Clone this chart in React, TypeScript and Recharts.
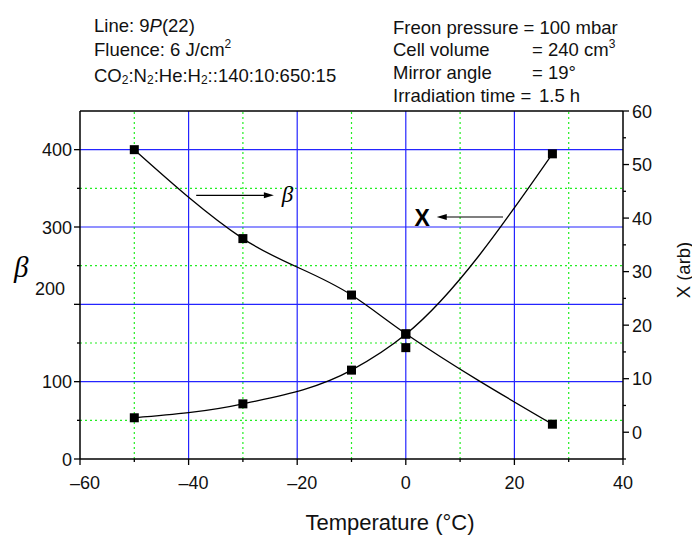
import React from 'react';
import { ComposedChart, Line, Scatter, XAxis, YAxis, ReferenceLine } from 'recharts';

// ---- data ----
const temperatures = [-50, -30, -10, 0, 27];
const betaValues = [400, 285, 212, 162, 45];
const xValues = [2.7, 5.3, 11.6, 18.3, 52.0];
const extraT = [0];
const extraX = [15.8];

const xTicks = [-60, -50, -40, -30, -20, -10, 0, 10, 20, 30, 40];
const leftTicks = [0, 50, 100, 150, 200, 250, 300, 350, 400];
const rightTicks = [-5, 0, 5, 10, 15, 20, 25, 30, 35, 40, 45, 50, 55, 60];
const xGridMajor = [-40, -20, 0, 20];
const xGridMinor = [-50, -30, -10, 10, 30];
const yGridMajor = [100, 200, 300, 400];
const yGridMinor = [50, 150, 250, 350];

const chartData = temperatures.map((t, i) => ({ t, beta: betaValues[i], x: xValues[i] }));
const extraData = extraT.map((t, i) => ({ t, x: extraX[i] }));

const FONT = '"Liberation Sans", Arial, sans-serif';
const BLUE = '#2424ff';
const GREEN = '#22ee22';

const fmt = (v: number) => (v < 0 ? '\u2013' + Math.abs(v) : String(v));

const XTick = (props: any) => {
  const { x, y, payload } = props;
  const v = payload.value;
  const major = v % 20 === 0;
  return (
    <g>
      <line x1={x} y1={y} x2={x} y2={y + (major ? 6 : 3)} stroke="#000" strokeWidth={1.3} />
      {major && (
        <text x={v < 0 ? x + 5 : x} y={y + 29.5} textAnchor="middle" fontSize={18} fontFamily={FONT} fill="#111">
          {fmt(v)}
        </text>
      )}
    </g>
  );
};

const LeftTick = (props: any) => {
  const { x, y, payload } = props;
  const v = payload.value;
  const major = v % 100 === 0;
  const special = v === 200;
  return (
    <g>
      <line x1={x} y1={y} x2={x - (major ? 6 : 3)} y2={y} stroke="#000" strokeWidth={1.3} />
      {major && (
        <text x={special ? x - 15 : x - 8} y={special ? y - 16 + 6.5 : y + 6.5} textAnchor="end" fontSize={18} fontFamily={FONT} fill="#111">
          {fmt(v)}
        </text>
      )}
    </g>
  );
};

const RightTick = (props: any) => {
  const { x, y, payload } = props;
  const v = payload.value;
  const major = v % 10 === 0;
  return (
    <g>
      <line x1={x} y1={y} x2={x + (major ? 6 : 3)} y2={y} stroke="#000" strokeWidth={1.3} />
      {major && (
        <text x={x + 9} y={y + 6.5} textAnchor="start" fontSize={18} fontFamily={FONT} fill="#111">
          {fmt(v)}
        </text>
      )}
    </g>
  );
};

const Square = (props: any) => {
  const { cx, cy, index } = props;
  if (cx == null || cy == null) return <g key={'n' + index} />;
  return <rect key={'sq' + index + '-' + cx} x={cx - 4.5} y={cy - 4.5} width={9} height={9} fill="#000" />;
};

const ScatterSquare = (props: any) => {
  const { cx, cy } = props;
  return <rect x={cx - 4.5} y={cy - 4.5} width={9} height={9} fill="#000" />;
};

const arrowShape = (label: string, dir: 'right' | 'left') => (p: any) => {
  const { x1, y1, x2, y2 } = p;
  const s = dir === 'right' ? 1 : -1;
  return (
    <g>
      <line x1={x1} y1={y1} x2={x2 - s * 8} y2={y2} stroke="#000" strokeWidth={1.2} />
      <polygon points={`${x2},${y2} ${x2 - s * 10},${y2 - 3} ${x2 - s * 10},${y2 + 3}`} fill="#000" />
      {dir === 'right' ? (
        <text x={x2 + 8} y={y2 + 7} fontSize={23} fontStyle="italic" fontFamily='"Liberation Serif", "Times New Roman", serif' fill="#000">
          {label}
        </text>
      ) : (
        <text x={x2 - 7} y={y2 + 8.5} textAnchor="end" fontSize={23} fontWeight="bold" fontFamily={FONT} fill="#000">
          {label}
        </text>
      )}
    </g>
  );
};

export default function App() {
  return (
    <div style={{ position: 'relative', width: 692, height: 536, background: '#fff' }}>
      <style>{'body{margin:0;background:#fff}'}</style>
      <ComposedChart
        width={692}
        height={536}
        data={chartData}
        margin={{ top: 111, right: 0, bottom: 0, left: 0 }}
      >
        <XAxis
          dataKey="t"
          type="number"
          domain={[-60, 40]}
          ticks={xTicks}
          interval={0}
          allowDataOverflow
          height={77}
          tickSize={0}
          tickMargin={0}
          tickLine={false}
          tick={<XTick />}
          axisLine={{ stroke: '#000', strokeWidth: 1.5 }}
        />
        <YAxis
          yAxisId="left"
          orientation="left"
          type="number"
          domain={[0, 450]}
          ticks={leftTicks}
          interval={0}
          allowDataOverflow
          width={80}
          tickSize={0}
          tickMargin={0}
          tickLine={false}
          tick={<LeftTick />}
          axisLine={{ stroke: '#000', strokeWidth: 1.5 }}
        />
        <YAxis
          yAxisId="right"
          orientation="right"
          type="number"
          domain={[-5, 60]}
          ticks={rightTicks}
          interval={0}
          allowDataOverflow
          width={69}
          tickSize={0}
          tickMargin={0}
          tickLine={false}
          tick={<RightTick />}
          axisLine={{ stroke: '#000', strokeWidth: 1.5 }}
        />

        {yGridMinor.map((v) => (
          <ReferenceLine key={'gy' + v} yAxisId="left" y={v} stroke={GREEN} strokeWidth={1.2} strokeDasharray="2 3" />
        ))}
        {xGridMinor.map((v) => (
          <ReferenceLine key={'gx' + v} yAxisId="left" x={v} stroke={GREEN} strokeWidth={1.2} strokeDasharray="2 3" />
        ))}
        {yGridMajor.map((v) => (
          <ReferenceLine key={'by' + v} yAxisId="left" y={v} stroke={BLUE} strokeWidth={1.2} />
        ))}
        {xGridMajor.map((v) => (
          <ReferenceLine key={'bx' + v} yAxisId="left" x={v} stroke={BLUE} strokeWidth={1.2} />
        ))}
        <ReferenceLine yAxisId="left" y={450} stroke="#000" strokeWidth={1.5} />

        <ReferenceLine
          yAxisId="left"
          segment={[{ x: -38.6, y: 341 }, { x: -24.3, y: 341 }]}
          shape={arrowShape('\u03b2', 'right')}
        />
        <ReferenceLine
          yAxisId="right"
          segment={[{ x: 17.9, y: 40.2 }, { x: 5.7, y: 40.2 }]}
          shape={arrowShape('X', 'left')}
        />

        <Line
          yAxisId="left"
          dataKey="beta"
          type="monotone"
          stroke="#000"
          strokeWidth={1.3}
          dot={Square}
          activeDot={false}
          isAnimationActive={false}
        />
        <Line
          yAxisId="right"
          dataKey="x"
          type="monotone"
          stroke="#000"
          strokeWidth={1.3}
          dot={Square}
          activeDot={false}
          isAnimationActive={false}
        />
        <Scatter
          yAxisId="right"
          data={extraData}
          dataKey="x"
          shape={<ScatterSquare />}
          isAnimationActive={false}
        />
      </ComposedChart>

      <svg
        width={692}
        height={536}
        style={{ position: 'absolute', left: 0, top: 0, pointerEvents: 'none' }}
        fontFamily={FONT}
        fill="#111"
      >
        <text x={94} y={31.5} fontSize={18.5}>
          Line: 9<tspan fontStyle="italic">P</tspan>(22)
        </text>
        <text x={94} y={56} fontSize={18.5}>
          Fluence: 6 J/cm<tspan fontSize={12} dy={-8}>2</tspan>
        </text>
        <text x={94} y={82} fontSize={18.5}>
          CO<tspan fontSize={12} dy={2}>2</tspan>
          <tspan dy={-2}>:N</tspan>
          <tspan fontSize={12} dy={2}>2</tspan>
          <tspan dy={-2}>:He:H</tspan>
          <tspan fontSize={12} dy={2}>2</tspan>
          <tspan dy={-2}>::140:10:650:15</tspan>
        </text>

        <text x={393} y={33.5} fontSize={18.5}>Freon pressure = 100 mbar</text>
        <text x={393} y={56} fontSize={18.5}>Cell volume</text>
        <text x={532} y={56} fontSize={18.5}>=</text>
        <text x={548} y={56} fontSize={18.5}>
          240 cm<tspan fontSize={12} dy={-8}>3</tspan>
        </text>
        <text x={393} y={78.5} fontSize={18.5}>Mirror angle</text>
        <text x={532} y={78.5} fontSize={18.5}>=</text>
        <text x={548} y={78.5} fontSize={18.5}>19°</text>
        <text x={393} y={101.5} fontSize={18.5}>Irradiation time =</text>
        <text x={539} y={101.5} fontSize={18.5}>1.5 h</text>

        <text x={14} y={277} fontSize={29} fontStyle="italic" fontFamily='"Liberation Serif", "Times New Roman", serif' fill="#000">
          β
        </text>
        <text x={683} y={270} fontSize={18.5} textAnchor="middle" dominantBaseline="central" transform="rotate(-90 683 270)">
          X (arb)
        </text>
        <text x={390} y={530} fontSize={22} textAnchor="middle">
          Temperature (°C)
        </text>
      </svg>
    </div>
  );
}
